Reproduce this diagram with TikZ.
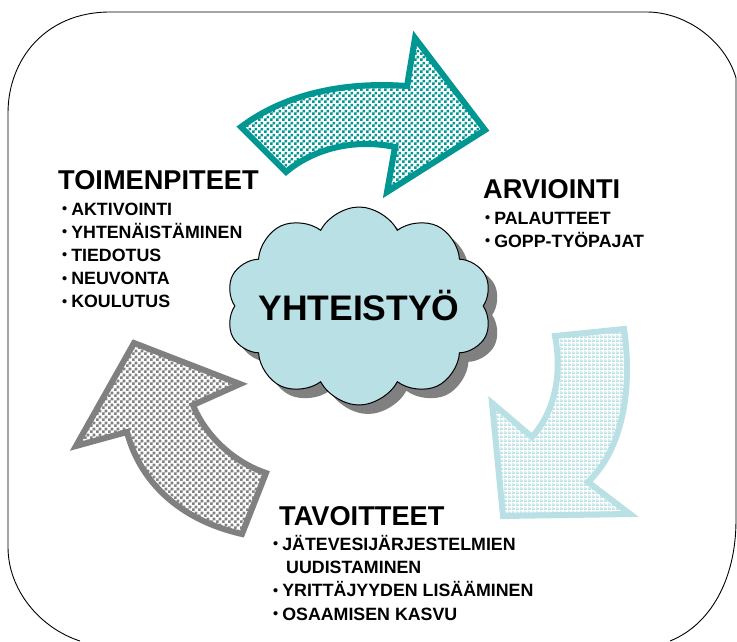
\documentclass[tikz,border=0pt]{standalone}
\usepackage{fontspec}
\setmainfont{Liberation Sans}
\usepackage{tikz}
\usetikzlibrary{shapes.symbols, patterns, positioning}
\usepackage{xcolor}
\definecolor{coopteal}{RGB}{0,150,145}
\definecolor{coopblue}{RGB}{185,224,228}
\definecolor{coopgray}{RGB}{128,128,128}

\pgfdeclarepatternformonly{checker}{\pgfpointorigin}{\pgfpoint{5.6pt}{5.6pt}}{\pgfpoint{5.6pt}{5.6pt}}{%
  \pgfpathrectangle{\pgfpointorigin}{\pgfpoint{2.8pt}{2.8pt}}%
  \pgfpathrectangle{\pgfpoint{2.8pt}{2.8pt}}{\pgfpoint{2.8pt}{2.8pt}}%
  \pgfusepath{fill}}
\pgfdeclarepatternformonly{dashrows}{\pgfpointorigin}{\pgfpoint{4pt}{4pt}}{\pgfpoint{4pt}{4pt}}{%
  \pgfpathrectangle{\pgfpointorigin}{\pgfpoint{4pt}{2pt}}%
  \pgfpathrectangle{\pgfpoint{0pt}{2.8pt}}{\pgfpoint{2pt}{0.7pt}}%
  \pgfusepath{fill}}

\newcommand{\bul}{{\fontsize{14.5}{12}\selectfont\raisebox{1.5pt}{•}}\hspace{4pt}}

\begin{document}
\begin{tikzpicture}[
  x=1pt, y=-1pt,
  frame/.style={draw=black, line width=0.9pt},
  bigarrow/.style={line width=6pt, miter limit=10, preaction={fill=white}},
  cloudy/.style={cloud, cloud puffs=10, cloud puff arc=125, cloud ignores aspect, minimum width=266pt, minimum height=198pt, inner sep=0pt},
  head/.style={font=\fontsize{27.2}{27}\selectfont\bfseries, inner sep=0pt, anchor=base west},
  item/.style={font=\fontsize{17.8}{18}\selectfont\bfseries, inner sep=0pt},
]
  \useasboundingbox (0,0) rectangle (737,641);
  \fill[white] (0,0) rectangle (737,641);

  % frame
  \draw[frame] (80,641) .. controls (40,628) and (8,590) .. (8,547) -- (8,113)
    .. controls (8,60) and (45,12) .. (110,12) -- (647,12)
    .. controls (685,12) and (725,40) .. (736,78) -- (736,520)
    .. controls (736,580) and (710,625) .. (670,641);

  % arrows
  \draw[bigarrow, draw=coopteal, pattern=checker, pattern color=coopteal]
    (241,127) .. controls (282,96) and (340,81) .. (407,86) -- (415,38) -- (485,130)
    -- (387,192) -- (395,147) .. controls (352,138) and (312,150) .. (286,172) -- cycle;
  \draw[bigarrow, draw=coopblue, pattern=dashrows, pattern color=coopblue]
    (555,336) -- (624,329) .. controls (633,390) and (622,450) .. (588,482) -- (630,514)
    -- (503,516) -- (492,403) -- (532,437) .. controls (556,410) and (562,372) .. (555,336) -- cycle;
  \draw[bigarrow, draw=coopgray, pattern=checker, pattern color=coopgray]
    (134,343) -- (240,384) -- (193,405) .. controls (205,435) and (233,462) .. (266,473)
    -- (242,534) .. controls (180,520) and (140,482) .. (127,432) -- (76,446) -- cycle;

  % cloud
  \node[cloudy, fill=coopgray] (coopshadow) at (368,315) {};
  \node[cloudy, fill=coopblue, draw=black, line width=1pt] (coop) at (359,306) {};
  \node[font=\fontsize{35.5}{35}\selectfont\bfseries] (cooptext) at (359,306) {YHTEISTYÖ};

  % toimenpiteet
  \node[head] (toim) at (58,189) {TOIMENPITEET};
  \node[item, below=26pt of toim.base west, anchor=base west, xshift=4pt] (toim1) {\bul AKTIVOINTI};
  \node[item, below=23.2pt of toim1.base west, anchor=base west] (toim2) {\bul YHTENÄISTÄMINEN};
  \node[item, below=23.2pt of toim2.base west, anchor=base west] (toim3) {\bul TIEDOTUS};
  \node[item, below=23.2pt of toim3.base west, anchor=base west] (toim4) {\bul NEUVONTA};
  \node[item, below=23.2pt of toim4.base west, anchor=base west] (toim5) {\bul KOULUTUS};

  % arviointi
  \node[head] (arvi) at (483,198) {ARVIOINTI};
  \node[item, below=26pt of arvi.base west, anchor=base west, xshift=2pt] (arvi1) {\bul PALAUTTEET};
  \node[item, below=23.2pt of arvi1.base west, anchor=base west] (arvi2) {\bul GOPP-TYÖPAJAT};

  % tavoitteet
  \node[head] (tavo) at (279,525) {TAVOITTEET};
  \node[item, below=25pt of tavo.base west, anchor=base west, xshift=-6pt] (tavo1) {\bul JÄTEVESIJÄRJESTELMIEN};
  \node[item, below=23.4pt of tavo1.base west, anchor=base west, xshift=13pt] (tavo1b) {UUDISTAMINEN};
  \node[item, below=46.8pt of tavo1.base west, anchor=base west] (tavo2) {\bul YRITTÄJYYDEN LISÄÄMINEN};
  \node[item, below=23.4pt of tavo2.base west, anchor=base west] (tavo3) {\bul OSAAMISEN KASVU};
\end{tikzpicture}
\end{document}
